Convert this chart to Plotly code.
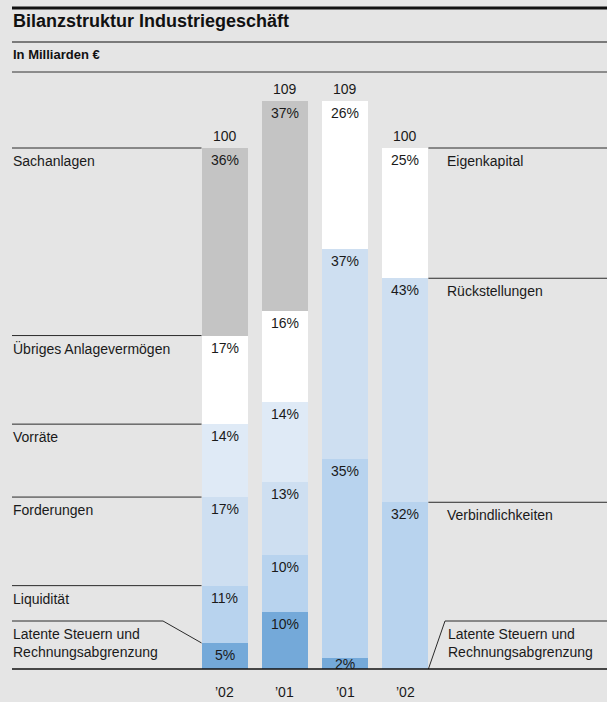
import plotly.graph_objects as go

# ---------------- data ----------------
bar_labels = ["’02", "’01", "’01", "’02"]
totals = [100, 109, 109, 100]

# assets (bars 0 and 1), bottom -> top, percent of total
asset_names = ["Latente Steuern und<br>Rechnungsabgrenzung", "Liquidität", "Forderungen",
               "Vorräte", "Übriges Anlagevermögen", "Sachanlagen"]
asset_pct = [
    [5, 10],
    [11, 10],
    [17, 13],
    [14, 14],
    [17, 16],
    [36, 37],
]
asset_colors = ["#74a9d9", "#b8d3ee", "#cedff1", "#dfeaf6", "#ffffff", "#c4c4c4"]

# liabilities (bars 2 and 3), bottom -> top
liab_names = ["Latente Steuern und<br>Rechnungsabgrenzung", "Verbindlichkeiten",
              "Rückstellungen", "Eigenkapital"]
liab_pct = [
    [2, 0],
    [35, 32],
    [37, 43],
    [26, 25],
]
liab_colors = ["#74a9d9", "#b8d3ee", "#cedff1", "#ffffff"]

title = "Bilanzstruktur Industriegeschäft"
subtitle = "In Milliarden €"

# ---------------- layout helpers ----------------
W, H = 607, 702
BASE_PX = 669.0       # baseline pixel row
UNIT_PX = 5.21        # pixels per unit
X0_PX, STEP_PX = 224.5, 60.3
BAR_W = 46 / STEP_PX


def pxx(p):
    return p / W


def pxy(p):
    return 1 - p / H


x_range = [-X0_PX / STEP_PX, (W - X0_PX) / STEP_PX]
y_range = [-(H - BASE_PX) / UNIT_PX, BASE_PX / UNIT_PX]

FONT = "Liberation Sans"
TXT = "#1a1a1a"
FS = 14

fig = go.Figure()
annotations = []
shapes = []

xs = [0, 1, 2, 3]


def xpaper(xv):
    return (xv - x_range[0]) / (x_range[1] - x_range[0])


def add_stack(bar_idx, names, pcts, colors, side):
    bottoms = [0.0 for _ in bar_idx]
    for name, vals, col in zip(names, pcts, colors):
        yvals = [None] * 4
        for k, bi in enumerate(bar_idx):
            yvals[bi] = vals[k] * totals[bi] / 100.0
        fig.add_trace(go.Bar(x=xs, y=yvals, marker=dict(color=col, line=dict(width=0)),
                             width=BAR_W, name=name.replace("<br>", " "),
                             showlegend=False, hoverinfo="skip"))
        tops = []
        for k, bi in enumerate(bar_idx):
            v = vals[k] * totals[bi] / 100.0
            top = bottoms[k] + v
            if vals[k] > 0:
                annotations.append(dict(x=bi, y=top, xref="x", yref="y", text=f"{vals[k]}%",
                                        showarrow=False, yshift=-12 if vals[k] > 3 else -6,
                                        yanchor="middle",
                                        font=dict(size=FS, color=TXT, family=FONT)))
            tops.append(top)
            bottoms[k] = top
        if name.startswith("Latente"):
            continue
        if side == "left":
            seg_top = tops[0]
            shapes.append(dict(type="line", xref="paper", yref="y", x0=pxx(12),
                               x1=xpaper(0 - BAR_W / 2),
                               y0=seg_top, y1=seg_top, line=dict(color="#2a2a2a", width=1)))
            annotations.append(dict(x=pxx(11), y=seg_top, xref="paper", yref="y", text=name,
                                    showarrow=False, xanchor="left", yanchor="middle", yshift=-13,
                                    font=dict(size=FS, color=TXT, family=FONT)))
        else:
            seg_top = tops[1]
            shapes.append(dict(type="line", xref="paper", yref="y",
                               x0=xpaper(3 + BAR_W / 2), x1=1,
                               y0=seg_top, y1=seg_top, line=dict(color="#2a2a2a", width=1)))
            annotations.append(dict(x=pxx(445), y=seg_top, xref="paper", yref="y", text=name,
                                    showarrow=False, xanchor="left", yanchor="middle", yshift=-13,
                                    font=dict(size=FS, color=TXT, family=FONT)))


add_stack([0, 1], asset_names, asset_pct, asset_colors, "left")
add_stack([2, 3], liab_names, liab_pct, liab_colors, "right")

# totals above bars and category labels below
for bi in xs:
    annotations.append(dict(x=bi, y=totals[bi], xref="x", yref="y", text=str(totals[bi]),
                            showarrow=False, yshift=12, yanchor="middle",
                            font=dict(size=FS, color=TXT, family=FONT)))
    annotations.append(dict(x=bi, y=pxy(692), xref="x", yref="paper", text=bar_labels[bi],
                            showarrow=False, yanchor="middle",
                            font=dict(size=FS, color=TXT, family=FONT)))

# Latente Steuern labels with bent leader lines
lat_left_top = asset_pct[0][0] * totals[0] / 100.0
shapes.append(dict(type="path", xref="paper", yref="paper",
                   path=f"M {pxx(12)},{pxy(621)} L {pxx(163)},{pxy(621)} "
                        f"L {xpaper(0 - BAR_W / 2)},{pxy(BASE_PX - lat_left_top * UNIT_PX)}",
                   line=dict(color="#2a2a2a", width=1)))
shapes.append(dict(type="path", xref="paper", yref="paper",
                   path=f"M {xpaper(3 + BAR_W / 2)},{pxy(BASE_PX)} L {pxx(445)},{pxy(621)} L 1,{pxy(621)}",
                   line=dict(color="#2a2a2a", width=1)))
annotations.append(dict(x=pxx(11), y=pxy(643), xref="paper", yref="paper",
                        text=asset_names[0], showarrow=False, xanchor="left", yanchor="middle",
                        align="left", font=dict(size=FS, color=TXT, family=FONT)))
annotations.append(dict(x=pxx(446), y=pxy(643), xref="paper", yref="paper",
                        text=liab_names[0], showarrow=False, xanchor="left", yanchor="middle",
                        align="left", font=dict(size=FS, color=TXT, family=FONT)))

# baseline
shapes.append(dict(type="line", xref="paper", yref="y", x0=pxx(12), x1=1, y0=0, y1=0,
                   line=dict(color="#111111", width=1.5)))

# header lines + texts
shapes.append(dict(type="line", xref="paper", yref="paper", x0=pxx(12), x1=1,
                   y0=pxy(8), y1=pxy(8), line=dict(color="#111111", width=3)))
shapes.append(dict(type="line", xref="paper", yref="paper", x0=pxx(12), x1=1,
                   y0=pxy(42), y1=pxy(42), line=dict(color="#111111", width=1.2)))
shapes.append(dict(type="line", xref="paper", yref="paper", x0=pxx(12), x1=1,
                   y0=pxy(72), y1=pxy(72), line=dict(color="#333333", width=1)))
annotations.append(dict(x=pxx(11), y=pxy(21), xref="paper", yref="paper",
                        text=f"<b>{title}</b>", showarrow=False, xanchor="left",
                        yanchor="middle", font=dict(size=18, color="#111111", family=FONT)))
annotations.append(dict(x=pxx(11), y=pxy(55), xref="paper", yref="paper",
                        text=f"<b>{subtitle}</b>", showarrow=False, xanchor="left",
                        yanchor="middle", font=dict(size=13, color="#111111", family=FONT)))

fig.update_layout(
    width=W, height=H,
    margin=dict(l=0, r=0, t=0, b=0),
    paper_bgcolor="#e5e5e5", plot_bgcolor="#e5e5e5",
    barmode="stack", bargap=0,
    xaxis=dict(range=x_range, visible=False, fixedrange=True),
    yaxis=dict(range=y_range, visible=False, fixedrange=True),
    annotations=annotations, shapes=shapes,
    showlegend=False,
)

fig.write_html("out.html", config={"displayModeBar": False},
               post_script="document.body.style.margin='0';document.body.style.background='#e5e5e5';")
